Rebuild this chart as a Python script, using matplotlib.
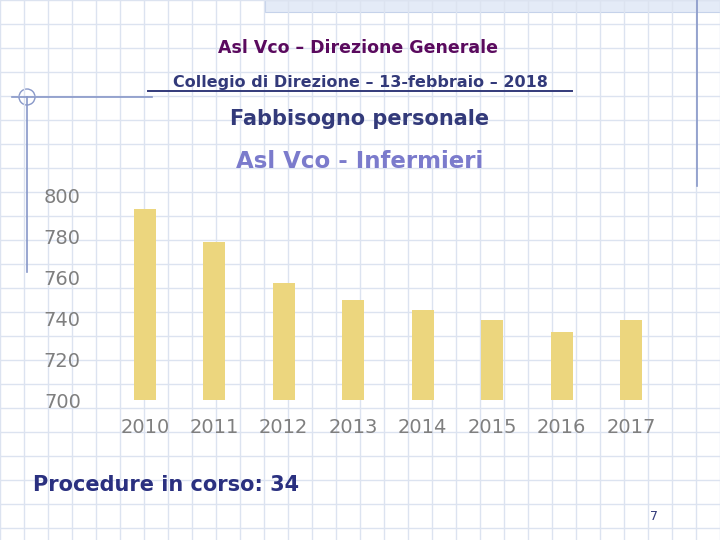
import numpy as np
import matplotlib
matplotlib.use("Agg")
import matplotlib.pyplot as plt
from matplotlib.patches import Circle, Rectangle

YEARS = ["2010", "2011", "2012", "2013", "2014", "2015", "2016", "2017"]
NURSES = [793, 777, 757, 749, 744, 739, 733, 739]

W, H = 720, 540
fig = plt.figure(figsize=(7.2, 5.4), dpi=100)
fig.patch.set_facecolor("white")


def px(x, y):
    # pixel coords -> figure fraction
    return x / W, 1 - y / H


# graph-paper background
bg = fig.add_axes([0, 0, 1, 1], zorder=-1)
bg.set_xlim(0, W)
bg.set_ylim(H, 0)
bg.axis("off")
for g in np.arange(0, W + 1, 24):
    bg.axvline(g, color="#dce3f0", lw=1.0)
for g in np.arange(0, H + 1, 24):
    bg.axhline(g, color="#dce3f0", lw=1.0)
bg.add_patch(Rectangle((265, 0), 455, 12, facecolor="#e4ebf7", edgecolor="#c5d2ea", lw=0.8))
bg.plot([12, 152], [97, 97], color="#8797c8", lw=1.2)
bg.plot([27, 27], [97, 272], color="#8797c8", lw=1.2)
bg.add_patch(Circle((27, 97), 8, fill=False, edgecolor="#8797c8", lw=1.0))
bg.plot([697, 697], [0, 186], color="#8797c8", lw=1.2)
bg.plot([148, 572], [91, 91], color="#333a7a", lw=1.4)

fig.text(*px(358, 48), "Asl Vco – Direzione Generale", ha="center", va="center",
         fontsize=12.5, color="#5a0a5e", fontweight="bold")
fig.text(*px(360, 82), "Collegio di Direzione – 13-febbraio – 2018", ha="center", va="center",
         fontsize=11.5, color="#333a7a", fontweight="bold")
fig.text(*px(360, 119), "Fabbisogno personale", ha="center", va="center",
         fontsize=15, color="#333a7a", fontweight="bold")
fig.text(*px(360, 162), "Asl Vco - Infermieri", ha="center", va="center",
         fontsize=16.5, color="#7b7bcc", fontweight="bold")
fig.text(*px(33, 485), "Procedure in corso: 34", ha="left", va="center",
         fontsize=15, color="#2a3080", fontweight="bold")
fig.text(*px(654, 516), "7", ha="center", va="center", fontsize=9, color="#333a7a")

ax = fig.add_axes([110 / W, 140 / H, 556 / W, 205 / H])
ax.patch.set_alpha(0)
x = np.arange(len(YEARS))
ax.bar(x, NURSES, width=0.32, color="#ecd67e")
ax.set_ylim(700, 800)
ax.set_xlim(-0.5, len(YEARS) - 0.5)
ax.set_yticks(range(700, 801, 20))
ax.set_xticks(x, YEARS)
for s in ax.spines.values():
    s.set_visible(False)
ax.tick_params(length=0, labelsize=14, labelcolor="#7f7f7f")
ax.tick_params(axis="y", pad=21)
ax.tick_params(axis="x", pad=13)

fig.savefig("out.png", dpi=100)
